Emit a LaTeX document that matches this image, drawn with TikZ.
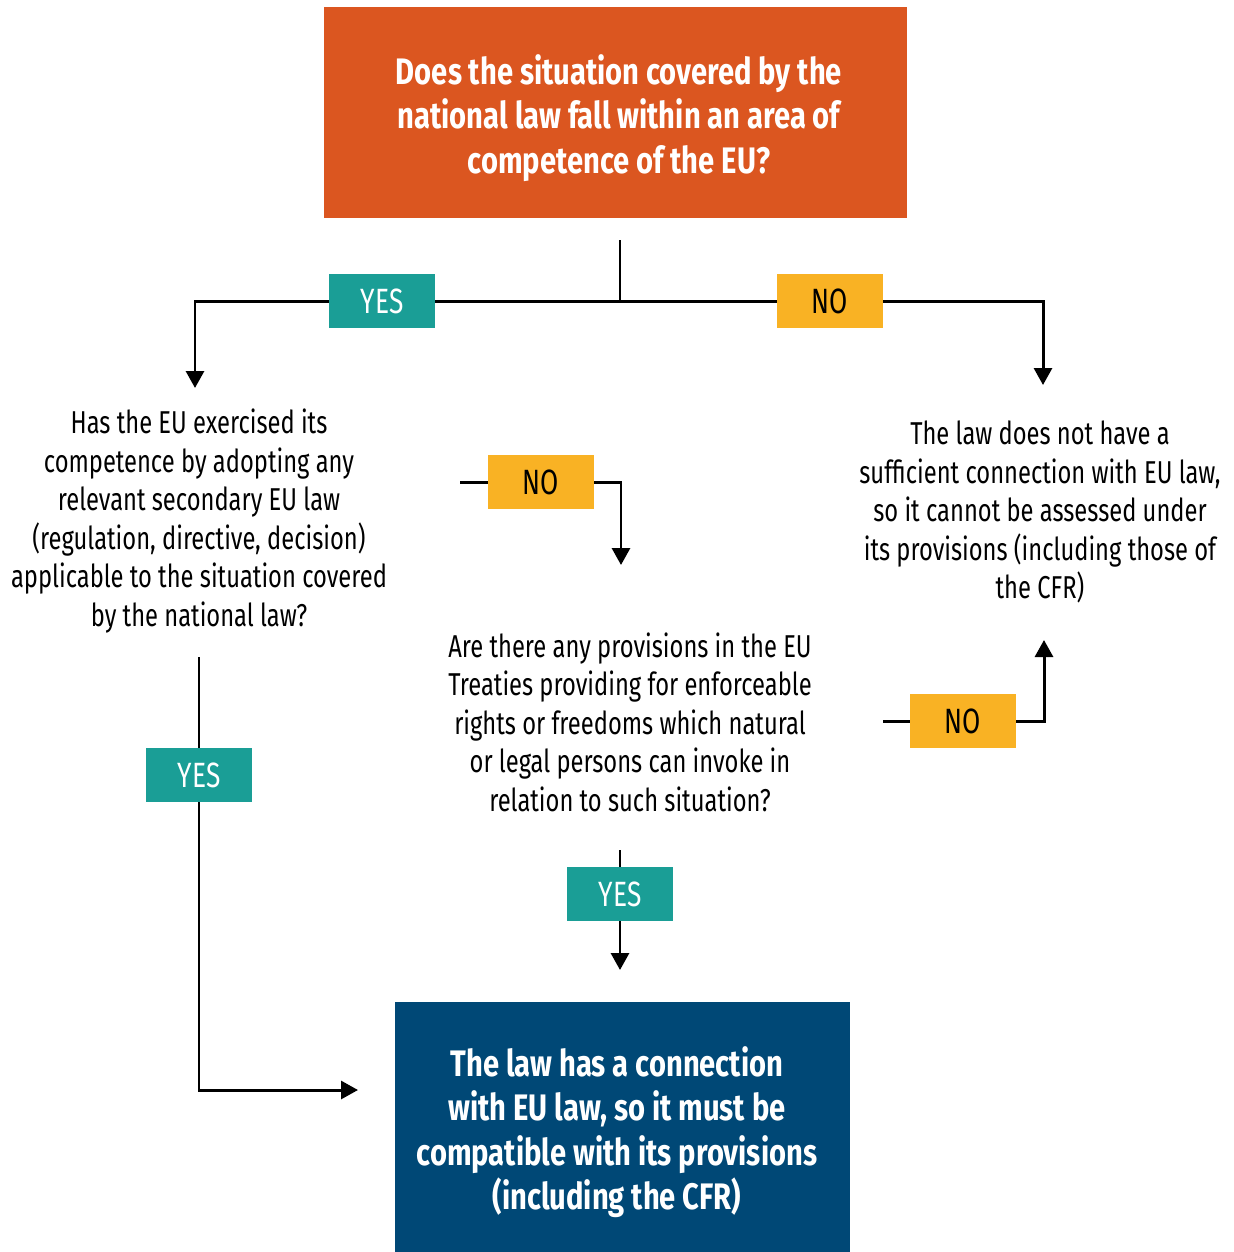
\documentclass[tikz,border=0pt]{standalone}
\usepackage{fontspec}
\setmainfont[FakeStretch=0.75, BoldFeatures={FakeStretch=0.79}]{Fira Sans}
\usetikzlibrary{arrows.meta,positioning}
\definecolor{eorange}{HTML}{DB5620}
\definecolor{eteal}{HTML}{1A9E96}
\definecolor{eyellow}{HTML}{F9B224}
\definecolor{eblue}{HTML}{004876}
\tikzset{
    ans/.style={minimum width=2.12cm, minimum height=1.08cm, inner sep=0pt, font=\fontsize{20}{22}\selectfont},
    yesbox/.style={ans, fill=eteal, text=white},
    nobox/.style={ans, fill=eyellow, text=black},
    qtext/.style={align=center, font=\fontsize{18}{21.9}\selectfont},
    bigbox/.style={align=center, text=white, font=\bfseries\fontsize{21}{25.3}\selectfont},
    link/.style={line width=1.7pt},
    flow/.style={link, -{Triangle[width=0.36cm,length=0.34cm]}}
}
\begin{document}
\begin{tikzpicture}[x=0.02cm, y=-0.02cm]
    \useasboundingbox (0,0) rectangle (1234,1252);

    % questions and outcomes
    \node[fill=eorange, minimum width=11.66cm, minimum height=4.22cm] (q0) at (615.5,112.5) {};
    \node[bigbox] (q0t) at (619,118) {Does the situation covered by the\\national law fall within an area of\\competence of the EU?};
    \node[qtext] (q1) at (199,521) {Has the EU exercised its\\competence by adopting any\\relevant secondary EU law\\(regulation, directive, decision)\\applicable to the situation covered\\by the national law?};
    \node[qtext] (q2) at (630,722) {Are there any provisions in the EU\\Treaties providing for enforceable\\rights or freedoms which natural\\or legal persons can invoke in\\relation to such situation?};
    \node[qtext] (out0) at (1040,512) {The law does not have a\\sufficient connection with EU law,\\so it cannot be assessed under\\its provisions (including those of\\the CFR)};
    \node[fill=eblue, minimum width=9.1cm, minimum height=5cm] (out1) at (622.5,1127) {};
    \node[bigbox] (out1t) at (617,1132) {The law has a connection\\with EU law, so it must be\\compatible with its provisions\\(including the CFR)};

    % answers
    \node[yesbox] (yes0) at (382,301) {YES};
    \node[nobox] (no0) at (830,301) {NO};
    \node[nobox] (no1) at (541,482) {NO};
    \node[nobox] (no2) at (963,721) {NO};
    \node[yesbox] (yes1) at (199,775) {YES};
    \node[yesbox] (yes2) at (620,894) {YES};

    % free ends
    \coordinate (s0) at (620,240);
    \coordinate (j0) at (620,301);
    \coordinate (t1) at (195,388);
    \coordinate (t2) at (1043,385);
    \coordinate (m0) at (460,482);
    \coordinate (t3) at (621,565);
    \coordinate (m1) at (883,721);
    \coordinate (t4) at (1044,640);
    \coordinate (m2) at (199,657);
    \coordinate (t5) at (358,1090);
    \coordinate (m3) at (620,850);
    \coordinate (t6) at (620,970);

    \draw[link] (s0) -- (j0);
    \draw[flow] (j0) -- (yes0) -| (t1);
    \draw[flow] (j0) -- (no0) -| (t2);
    \draw[flow] (m0) -- (no1) -| (t3);
    \draw[flow] (m1) -- (no2) -| (t4);
    \draw[flow] (m2) -- (yes1) |- (t5);
    \draw[flow] (m3) -- (yes2) -- (t6);
\end{tikzpicture}
\end{document}
